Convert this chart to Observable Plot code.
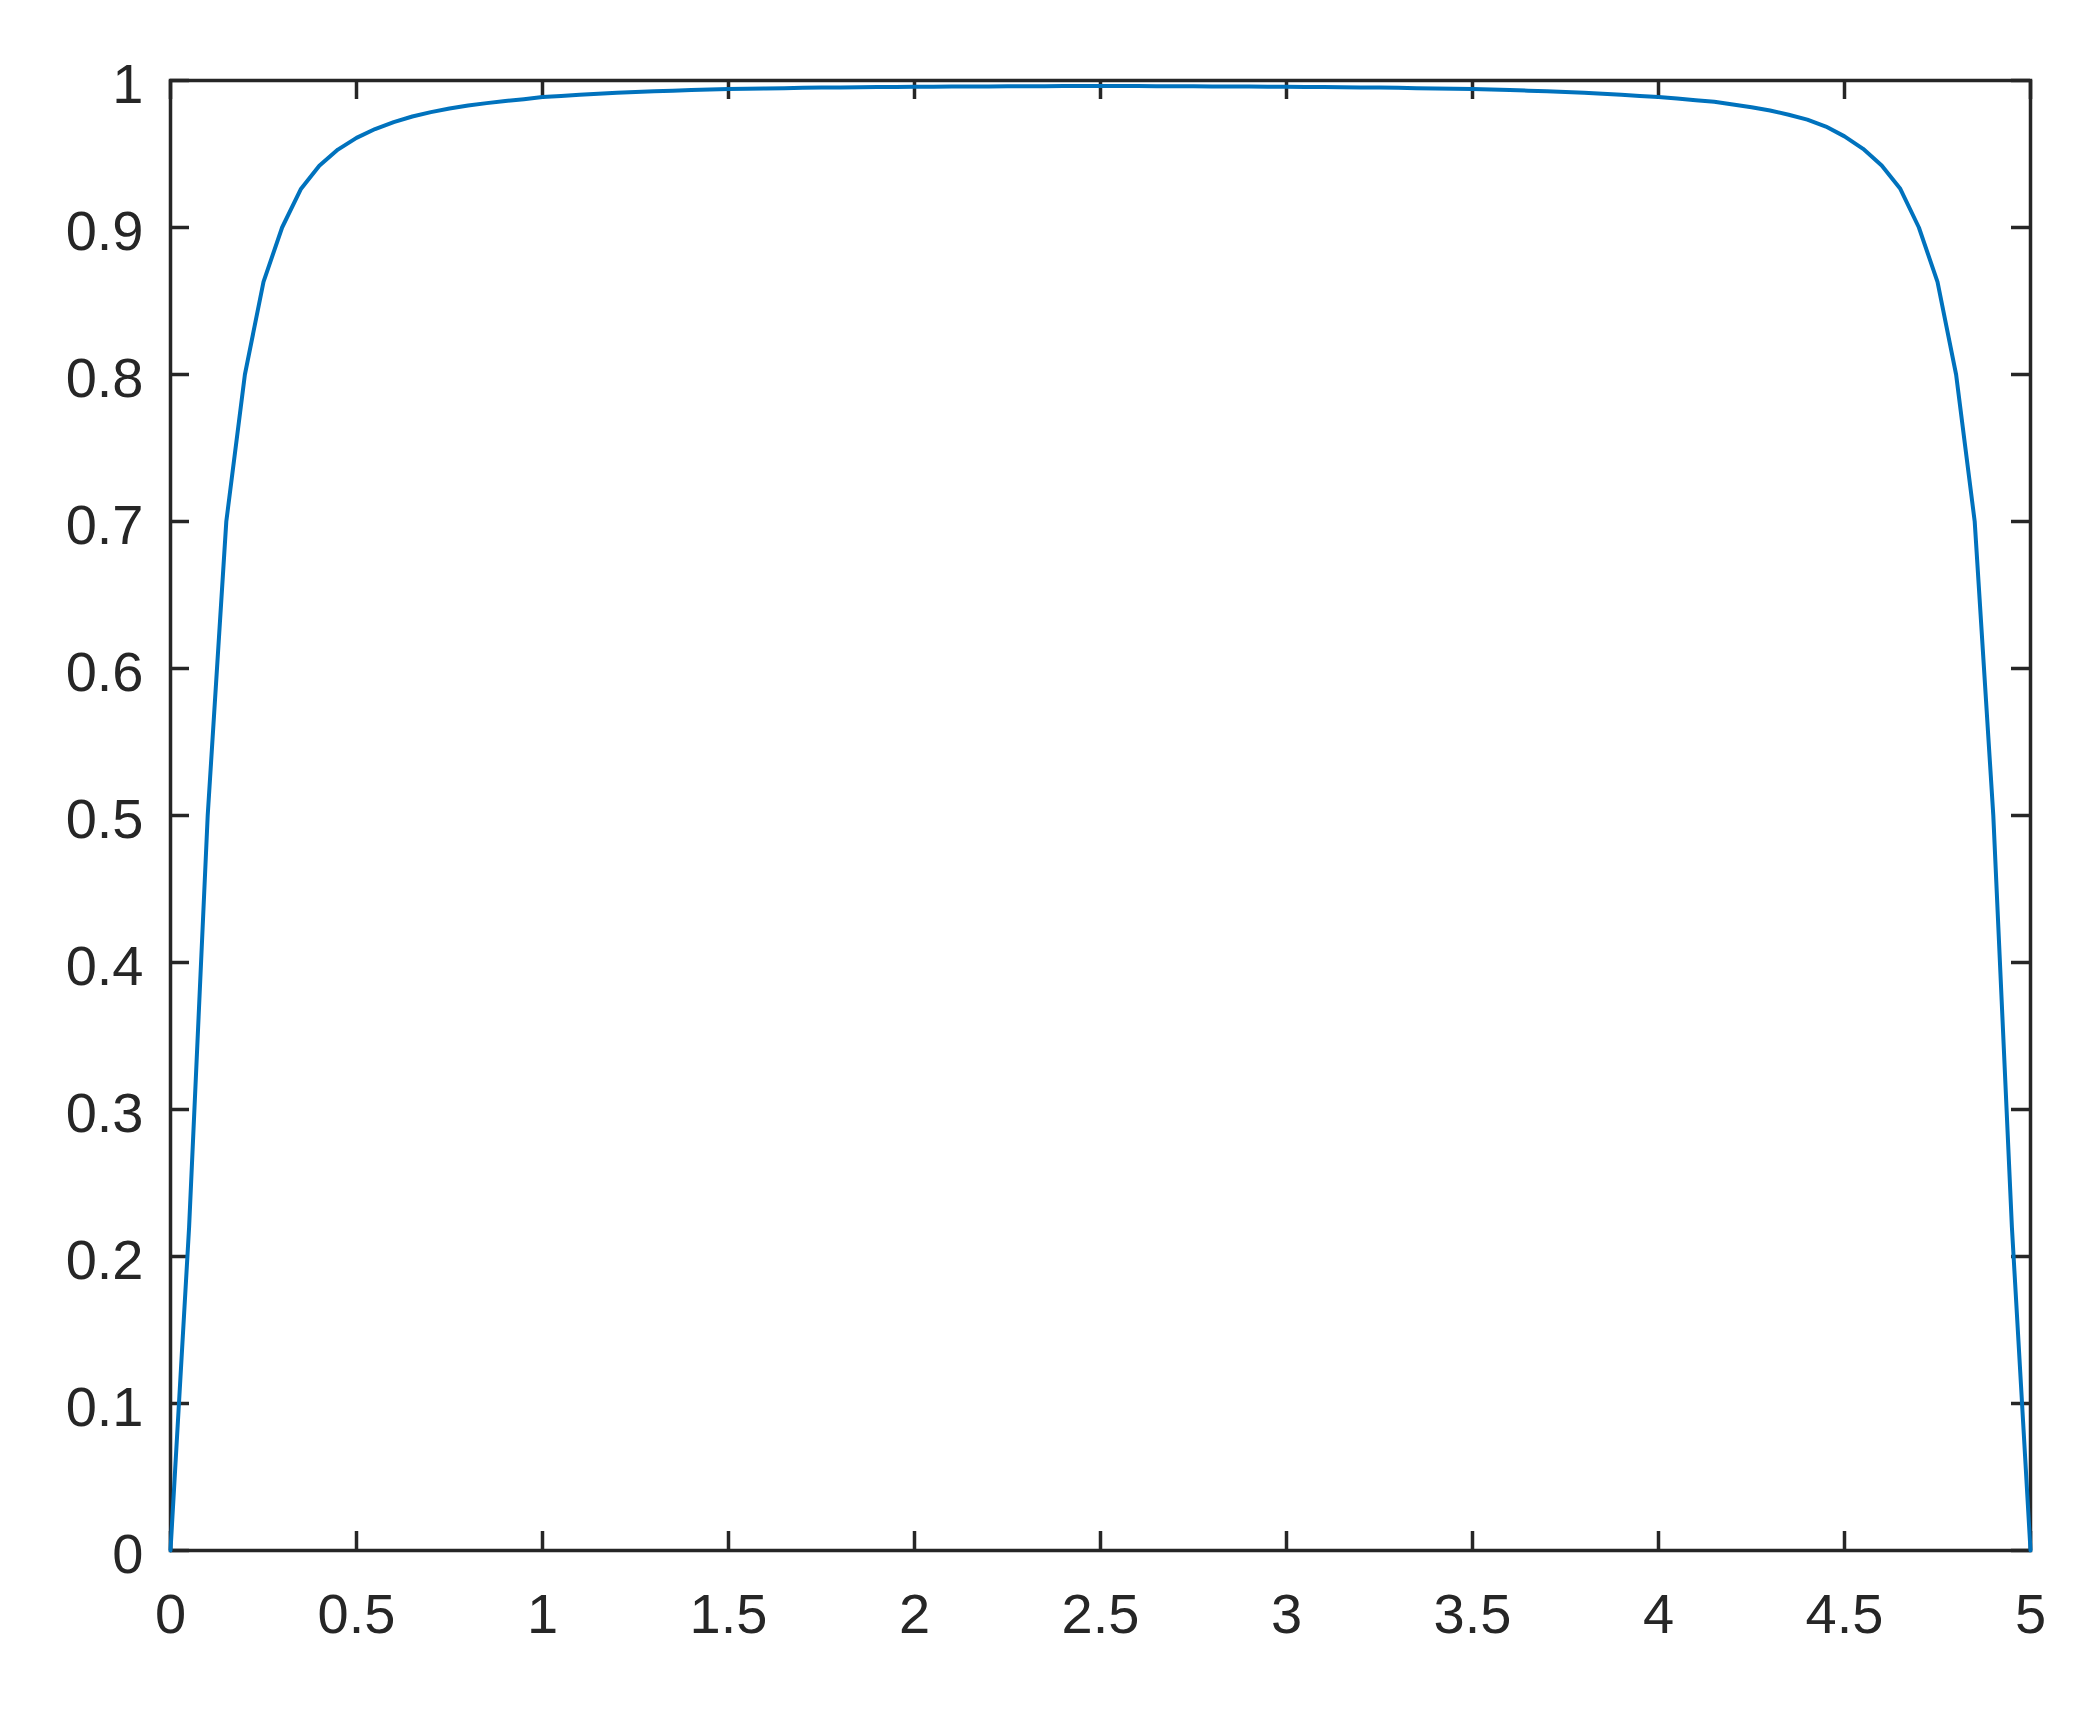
<!DOCTYPE html>
<html>
<head>
<meta charset="utf-8">
<script src="https://cdn.jsdelivr.net/npm/d3@7"></script>
<script src="https://cdn.jsdelivr.net/npm/@observablehq/plot@0.6"></script>
<style>
  html, body { margin: 0; padding: 0; background: #ffffff; overflow: hidden; }
  #chart { width: 2094px; height: 1717px; }
</style>
</head>
<body>
<div id="chart"></div>
<script>
// x sample positions
const xs = [
  0, 0.05, 0.1, 0.15, 0.2, 0.25, 0.3, 0.35, 0.4, 0.45,
  0.5, 0.55, 0.6, 0.65, 0.7, 0.75, 0.8, 0.85, 0.9, 0.95,
  1, 1.05, 1.1, 1.15, 1.2, 1.25, 1.3, 1.35, 1.4, 1.45,
  1.5, 1.55, 1.6, 1.65, 1.7, 1.75, 1.8, 1.85, 1.9, 1.95,
  2, 2.05, 2.1, 2.15, 2.2, 2.25, 2.3, 2.35, 2.4, 2.45,
  2.5, 2.55, 2.6, 2.65, 2.7, 2.75, 2.8, 2.85, 2.9, 2.95,
  3, 3.05, 3.1, 3.15, 3.2, 3.25, 3.3, 3.35, 3.4, 3.45,
  3.5, 3.55, 3.6, 3.65, 3.7, 3.75, 3.8, 3.85, 3.9, 3.95,
  4, 4.05, 4.1, 4.15, 4.2, 4.25, 4.3, 4.35, 4.4, 4.45,
  4.5, 4.55, 4.6, 4.65, 4.7, 4.75, 4.8, 4.85, 4.9, 4.95,
  5
];
// series values
const ys = [
  0, 0.22, 0.50, 0.70, 0.80, 0.863, 0.900, 0.926, 0.942, 0.953,
  0.961, 0.967, 0.9717, 0.9755, 0.9785, 0.981, 0.983, 0.9846, 0.986, 0.9873,
  0.9887, 0.9895, 0.9903, 0.991, 0.9917, 0.9922, 0.9927, 0.9931, 0.9935, 0.9939,
  0.9942, 0.9944, 0.9946, 0.9948, 0.995, 0.9952, 0.9953, 0.9954, 0.9955, 0.9956,
  0.9957, 0.9958, 0.9959, 0.996, 0.996, 0.9961, 0.9961, 0.9961, 0.9962, 0.9962,
  0.9962, 0.9962, 0.9962, 0.9961, 0.9961, 0.9961, 0.996, 0.996, 0.9959, 0.9958,
  0.9957, 0.9956, 0.9955, 0.9954, 0.9953, 0.9952, 0.995, 0.9948, 0.9946, 0.9944,
  0.9942, 0.9939, 0.9935, 0.9931, 0.9927, 0.9922, 0.9917, 0.991, 0.9903, 0.9895,
  0.9887, 0.9878, 0.9866, 0.9855, 0.9837, 0.9818, 0.9796, 0.9767, 0.9734, 0.9687,
  0.962, 0.9535, 0.9422, 0.9263, 0.900, 0.863, 0.80, 0.70, 0.50, 0.22,
  0
];
// tick labels
const xTicks = [0, 0.5, 1, 1.5, 2, 2.5, 3, 3.5, 4, 4.5, 5];
const yTicks = [0, 0.1, 0.2, 0.3, 0.4, 0.5, 0.6, 0.7, 0.8, 0.9, 1];

const data = xs.map((x, i) => ({x, y: ys[i]}));

const W = 2094, H = 1717;
const mL = 170, mR = 64, mT = 80, mB = 167;
const fw = W - mL - mR, fh = H - mT - mB;
const tickLen = 19;
const ink = "#262626";

const chart = Plot.plot({
  width: W,
  height: H,
  marginLeft: mL,
  marginRight: mR,
  marginTop: mT,
  marginBottom: mB,
  style: {
    background: "#ffffff",
    color: ink,
    fontFamily: "'Liberation Sans', Arial, Helvetica, sans-serif",
    fontSize: "56px"
  },
  x: {domain: [0, 5]},
  y: {domain: [0, 1]},
  marks: [
    Plot.frame({stroke: ink, strokeWidth: 3.5}),
    // inward ticks, all four sides
    Plot.tickX(xTicks, {x: d => d, stroke: ink, strokeWidth: 3.5, insetTop: fh - tickLen}),
    Plot.tickX(xTicks, {x: d => d, stroke: ink, strokeWidth: 3.5, insetBottom: fh - tickLen}),
    Plot.tickY(yTicks, {y: d => d, stroke: ink, strokeWidth: 3.5, insetRight: fw - tickLen}),
    Plot.tickY(yTicks, {y: d => d, stroke: ink, strokeWidth: 3.5, insetLeft: fw - tickLen}),
    Plot.axisX({ticks: xTicks, tickSize: 0, tickPadding: 43, tickFormat: d => `${d}`, fontSize: 56, fill: ink, label: null}),
    Plot.axisY({ticks: yTicks, tickSize: 0, tickPadding: 27, dy: 5, tickFormat: d => `${d}`, fontSize: 56, fill: ink, label: null}),
    Plot.line(data, {x: "x", y: "y", stroke: "#0072BD", strokeWidth: 4, strokeLinejoin: "round"})
  ]
});

document.getElementById("chart").appendChild(chart);
</script>
</body>
</html>
